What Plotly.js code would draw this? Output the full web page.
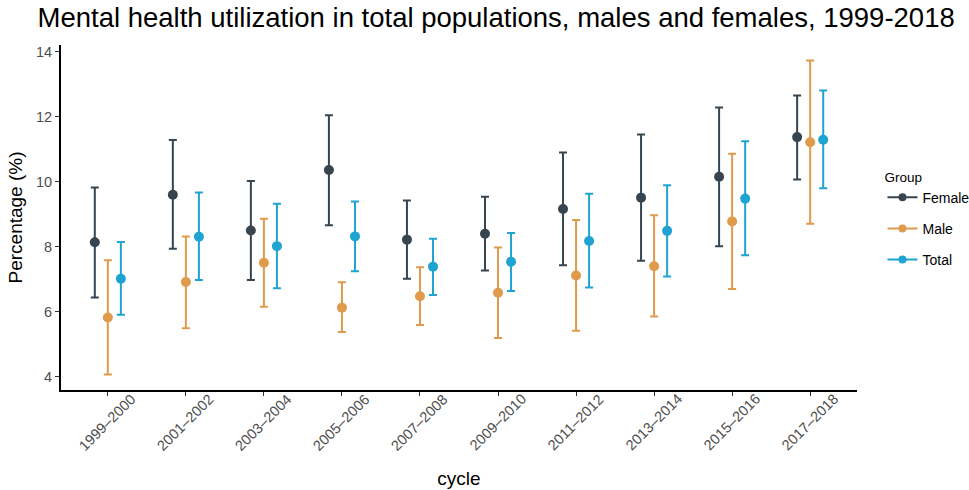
<!DOCTYPE html>
<html>
<head>
<meta charset="utf-8">
<script src="https://cdn.plot.ly/plotly-3.0.1.min.js"></script>
<style>html,body{margin:0;padding:0;background:#fff;}#chart{width:969px;height:490px;}</style>
</head>
<body>
<div id="chart"></div>
<script>
const cycles = ["1999-2000","2001-2002","2003-2004","2005-2006","2007-2008","2009-2010","2011-2012","2013-2014","2015-2016","2017-2018"];
const tickLabels = ["1999\u20132000","2001\u20132002","2003\u20132004","2005\u20132006","2007\u20132008","2009\u20132010","2011\u20132012","2013\u20132014","2015\u20132016","2017\u20132018"];
const groups = ["Female","Male","Total"];

const femaleEst   = [8.14, 9.60, 8.50, 10.36, 8.22, 8.40, 9.16, 9.51, 10.15, 11.37];
const femaleLower = [6.44, 7.94, 6.98, 8.66, 7.02, 7.27, 7.43, 7.57, 8.02, 10.07];
const femaleUpper = [9.82, 11.28, 10.02, 12.04, 9.42, 9.54, 10.90, 11.45, 12.28, 12.65];

const maleEst   = [5.83, 6.92, 7.51, 6.13, 6.48, 6.59, 7.12, 7.40, 8.78, 11.21];
const maleLower = [4.08, 5.50, 6.16, 5.38, 5.60, 5.20, 5.42, 5.86, 6.70, 8.71];
const maleUpper = [7.59, 8.32, 8.86, 6.91, 7.37, 7.98, 8.82, 8.97, 10.86, 13.72];

const totalEst   = [7.02, 8.31, 8.02, 8.32, 7.39, 7.54, 8.18, 8.49, 9.48, 11.29];
const totalLower = [5.91, 6.98, 6.73, 7.25, 6.52, 6.64, 6.75, 7.09, 7.74, 9.80];
const totalUpper = [8.15, 9.67, 9.32, 9.39, 8.25, 8.42, 9.63, 9.89, 11.24, 12.80];

const colors = {Female: "#36454F", Male: "#E09A4C", Total: "#1FA3D1"};
const dodge = {Female: -0.167, Male: 0, Total: 0.167};
const series = {
  Female: [femaleEst, femaleLower, femaleUpper],
  Male: [maleEst, maleLower, maleUpper],
  Total: [totalEst, totalLower, totalUpper]
};

const traces = [];
groups.forEach(g => {
  const [est, lo, hi] = series[g];
  traces.push({
    type: "scatter", mode: "markers", name: g, showlegend: false,
    x: cycles.map((c, i) => i + dodge[g]),
    y: est,
    marker: {color: colors[g], size: 10},
    error_y: {
      type: "data", symmetric: false,
      array: hi.map((h, i) => h - est[i]),
      arrayminus: lo.map((l, i) => est[i] - l),
      color: colors[g], thickness: 2, width: 4
    },
    hoverinfo: "x+y"
  });
});
groups.forEach(g => {
  traces.push({
    type: "scatter", mode: "lines+markers", name: g, legendgroup: g,
    x: [null], y: [null],
    marker: {color: colors[g], size: 8},
    line: {color: colors[g], width: 2}
  });
});

// Tick labels rotated 45° and centred under each tick (ggplot style)
const tickAnnotations = tickLabels.map((t, i) => ({
  text: t, x: i, xref: "x", y: -0.094, yref: "paper",
  xanchor: "center", yanchor: "middle", textangle: -45, showarrow: false,
  font: {size: 14.5, color: "#4D4D4D"}
}));

const layout = {
  width: 969, height: 490,
  paper_bgcolor: "#fff", plot_bgcolor: "#fff",
  margin: {l: 61, r: 112, t: 45, b: 100, autoexpand: false},
  font: {family: "Liberation Sans, Arial, sans-serif", color: "#000"},
  title: {text: "Mental health utilization in total populations, males and females, 1999-2018",
          font: {size: 27.5, color: "#000"}, x: 0.512, xref: "container", xanchor: "center",
          y: 0.985, yref: "container", yanchor: "top"},
  xaxis: {
    range: [-0.6, 9.6], tickmode: "array", tickvals: cycles.map((c, i) => i), ticktext: tickLabels,
    showticklabels: false,
    ticks: "outside", ticklen: 4, tickcolor: "#333", tickwidth: 1,
    showline: true, linecolor: "#000", linewidth: 2, showgrid: false, zeroline: false,
    tickfont: {size: 14.5, color: "#4D4D4D"},
    title: {text: "cycle", font: {size: 19, color: "#000"}, standoff: 77}
  },
  yaxis: {
    range: [3.6, 14.2], tickvals: [4, 6, 8, 10, 12, 14],
    ticks: "outside", ticklen: 4, tickcolor: "#333", tickwidth: 1,
    showline: true, linecolor: "#000", linewidth: 2, showgrid: false, zeroline: false,
    tickfont: {size: 14.5, color: "#4D4D4D"},
    title: {text: "Percentage (%)", font: {size: 19, color: "#000"}, standoff: 8}
  },
  annotations: tickAnnotations,
  legend: {
    x: 1.032, xanchor: "left", y: 0.655, yanchor: "top",
    title: {text: "Group", font: {size: 13.5, color: "#000"}},
    font: {size: 14, color: "#000"}, tracegroupgap: 10, bgcolor: "rgba(0,0,0,0)"
  },
  showlegend: true
};

Plotly.newPlot("chart", traces, layout, {displayModeBar: false, staticPlot: true});
</script>
</body>
</html>
